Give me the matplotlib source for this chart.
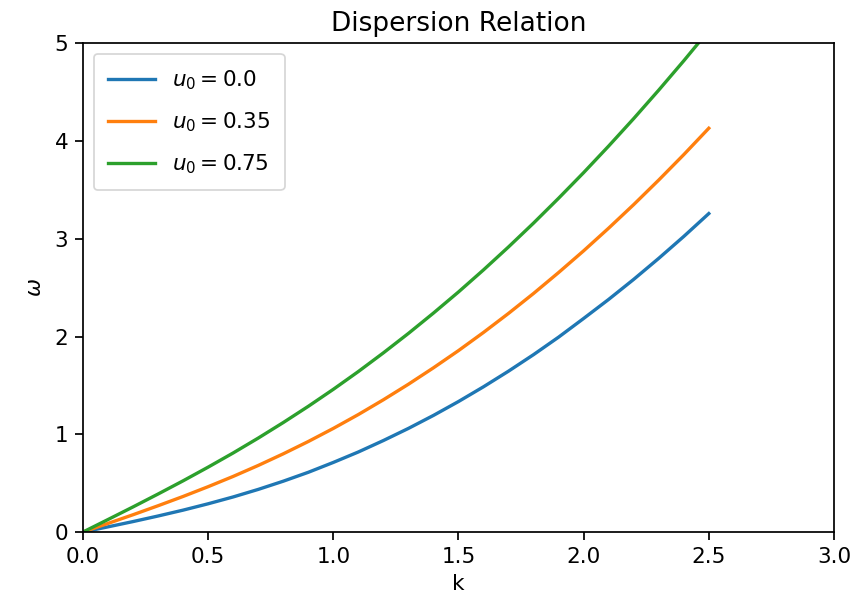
import matplotlib
matplotlib.use("Agg")
import matplotlib.pyplot as plt

# wavenumber samples
k = [0.0, 0.1, 0.2, 0.3, 0.4, 0.5, 0.6, 0.7, 0.8, 0.9, 1.0, 1.1, 1.2,
     1.3, 1.4, 1.5, 1.6, 1.7, 1.8, 1.9, 2.0, 2.1, 2.2, 2.3, 2.4, 2.5]

# omega for each u0
omega_u0_000 = [0.000, 0.053, 0.107, 0.164, 0.224, 0.289, 0.359, 0.436, 0.520,
                0.611, 0.712, 0.819, 0.936, 1.060, 1.193, 1.335, 1.486, 1.646,
                1.815, 1.994, 2.185, 2.380, 2.585, 2.800, 3.024, 3.258]
omega_u0_035 = [0.000, 0.088, 0.177, 0.269, 0.364, 0.464, 0.569, 0.681, 0.800,
                0.926, 1.060, 1.202, 1.353, 1.512, 1.680, 1.856, 2.042, 2.237,
                2.441, 2.655, 2.877, 3.109, 3.350, 3.601, 3.861, 4.131]
omega_u0_075 = [0.000, 0.128, 0.257, 0.389, 0.524, 0.664, 0.809, 0.961, 1.120,
                1.286, 1.460, 1.642, 1.833, 2.032, 2.240, 2.456, 2.682, 2.917,
                3.161, 3.415, 3.677, 3.949, 4.230, 4.521, 4.821, 5.131]

labels = [r"$u_0 = 0.0$", r"$u_0 = 0.35$", r"$u_0 = 0.75$"]
series = [omega_u0_000, omega_u0_035, omega_u0_075]
colors = ["#1f77b4", "#ff7f0e", "#2ca02c"]

xticks = [0.0, 0.5, 1.0, 1.5, 2.0, 2.5, 3.0]
yticks = [0, 1, 2, 3, 4, 5]

plt.rcParams["font.family"] = ["DejaVu Sans"]
fig = plt.figure(figsize=(8.61, 6.09), dpi=100)
ax = fig.add_axes([0.0964, 0.1264, 0.8722, 0.8025])

for ys, lab, c in zip(series, labels, colors):
    ax.plot(k, ys, color=c, lw=2.4, label=lab)

ax.set_xlim(0, 3)
ax.set_ylim(0, 5)
ax.set_xticks(xticks)
ax.set_xticklabels([f"{t:.1f}" for t in xticks])
ax.set_yticks(yticks)
ax.tick_params(labelsize=15.5, length=5.5, width=1.25, pad=5.0)
for s in ax.spines.values():
    s.set_linewidth(1.25)

ax.set_title("Dispersion Relation", fontsize=19, pad=9)
ax.set_xlabel("k", fontsize=15.5, labelpad=5)
ax.set_ylabel(r"$\omega$", fontsize=15.5, labelpad=7)

leg = ax.legend(loc="upper left", fontsize=15.5, handlelength=2.2,
                labelspacing=0.87, borderpad=0.65, borderaxespad=0.5)
leg.get_frame().set_linewidth(1.25)

fig.savefig("out.png", dpi=100)
